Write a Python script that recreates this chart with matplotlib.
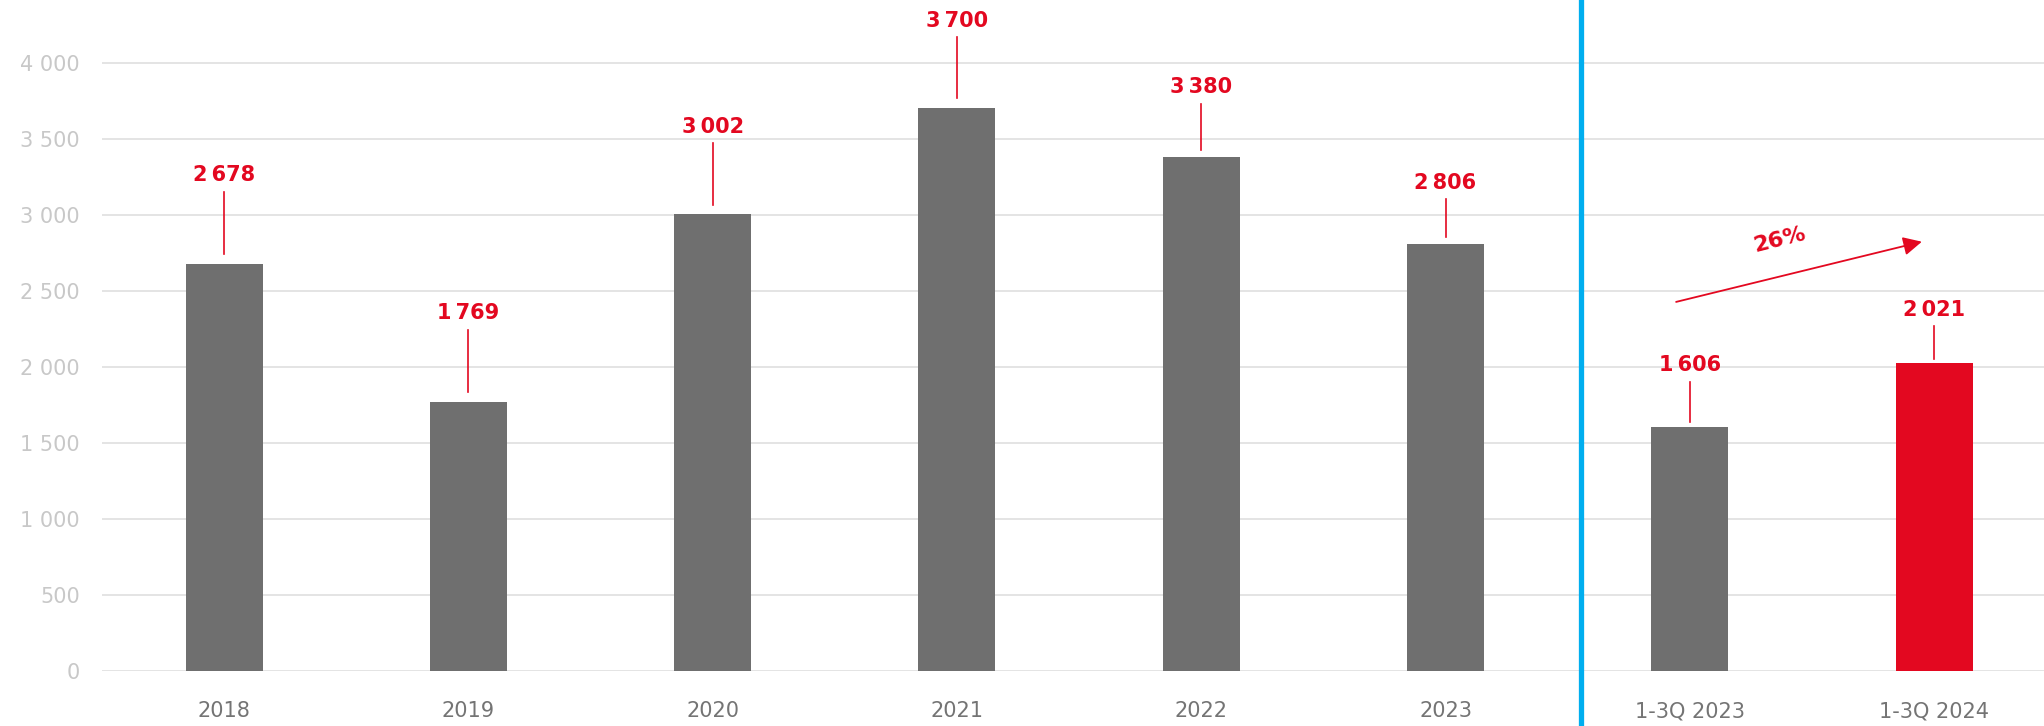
import matplotlib
matplotlib.use("Agg")
import matplotlib.pyplot as plt
from matplotlib.transforms import blended_transform_factory

plt.rcParams['font.family'] = ['DejaVu Sans']

categories = ['2018', '2019', '2020', '2021', '2022', '2023', '1-3Q 2023', '1-3Q 2024']
values = [2678, 1769, 3002, 3700, 3380, 2806, 1606, 2021]
value_labels = ['2\u202f678', '1\u202f769', '3\u202f002', '3\u202f700',
                '3\u202f380', '2\u202f806', '1\u202f606', '2\u202f021']
y_ticks = [0, 500, 1000, 1500, 2000, 2500, 3000, 3500, 4000]
y_tick_labels = ['0', '500', '1 000', '1 500', '2 000', '2 500', '3 000', '3 500', '4 000']
growth_label = '26%'

# leader line geometry above each bar, in pixels (gap above bar, line end)
leader_gap = [10, 10, 9, 10, 7, 7, 5, 4]
leader_end = [72, 72, 71, 71, 53, 45, 45, 37]

GRAY = '#6f6f6f'
RED = '#e30820'
BLUE = '#00aeef'

fig = plt.figure(figsize=(20.44, 7.26), dpi=100)
ax = fig.add_axes([102 / 2044, 55.3 / 726, 1 - 102 / 2044, 670.7 / 726])

x = list(range(len(categories)))
colors = [GRAY] * (len(categories) - 1) + [RED]
ax.bar(x, values, width=0.315, color=colors, zorder=3)

ax.set_xlim(-0.5, 7.45)
ax.set_ylim(0, 4412)
ax.set_yticks(y_ticks)
ax.set_yticklabels(y_tick_labels)
ax.set_xticks(x)
ax.set_xticklabels(categories)
ax.tick_params(axis='y', length=0, pad=16, labelsize=15, labelcolor='#c8c8c8')
ax.tick_params(axis='x', length=0, pad=22, labelsize=15, labelcolor='#747474')
ax.grid(axis='y', color='#dcdcdc', linewidth=1.1, zorder=0)
for s in ax.spines.values():
    s.set_visible(False)

# data units per pixel on the y axis
upp = 4412 / 670.7

# value labels with short leader lines
for xi, v, lab, g, e in zip(x, values, value_labels, leader_gap, leader_end):
    ax.plot([xi, xi], [v + g * upp, v + e * upp], color=RED, lw=1.2, zorder=4)
    ax.text(xi, v + (e + 16.5) * upp, lab, ha='center', va='center', color=RED,
            fontsize=15, fontweight='bold')

# separator between full years and nine-month figures
trans = blended_transform_factory(ax.transData, fig.transFigure)
ax.plot([5.555, 5.555], [0, 1], transform=trans, color=BLUE, lw=3.8,
        clip_on=False, zorder=5)

# growth arrow
ax.annotate('', xy=(6.95, 2822), xytext=(5.944, 2426),
            arrowprops=dict(arrowstyle='-|>', color=RED, lw=1.3,
                            mutation_scale=28, shrinkA=0, shrinkB=0))
ax.text(6.366, 2834, growth_label, ha='center', va='center', color=RED,
        fontsize=16, fontweight='bold', rotation=14)

fig.savefig('out.png', dpi=100)
